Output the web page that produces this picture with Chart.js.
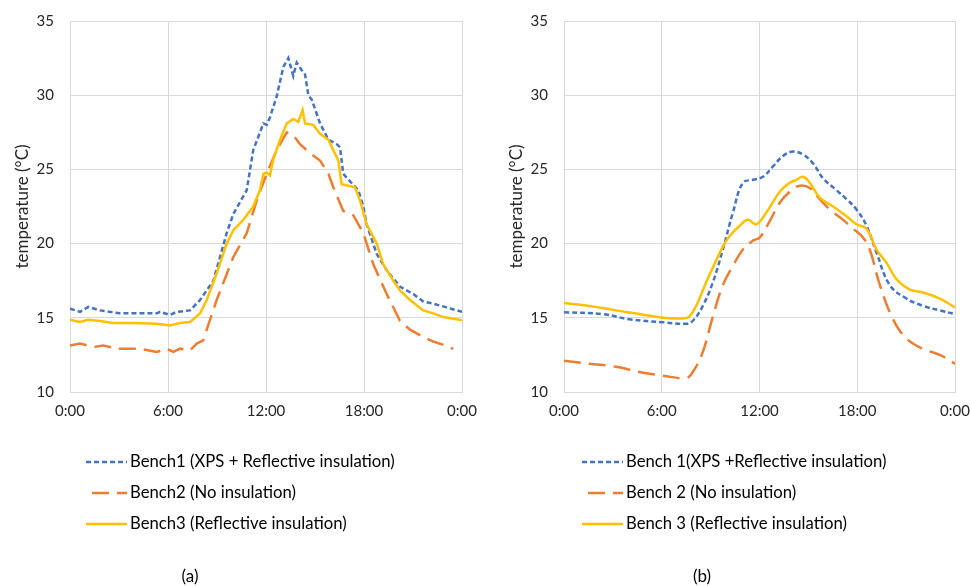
<!DOCTYPE html>
<html>
<head>
  <script src="https://cdn.jsdelivr.net/npm/chart.js"></script>
  <title>Bench temperatures</title>
  <style>
    body { margin: 0; background: #fff; }
    canvas { position: absolute; top: 0; }
  </style>
</head>
<body>
  <canvas id="chartA" width="480" height="586" style="left:0"></canvas>
  <canvas id="chartB" width="477" height="586" style="left:494px"></canvas>

  <script>
    // (a) readings: hour of day and temperature for each bench
    const aBench1Hours = [0,0.61,1.12,1.84,2.45,3.06,4.29,5.31,5.51,6.12,6.53,7.35,7.96,8.78,9.59,10.0,10.82,11.22,11.84,12.04,12.24,12.65,13.06,13.37,13.67,13.88,14.18,14.39,14.59,14.8,15.31,15.82,16.33,16.53,16.73,17.14,17.65,17.96,18.16,18.78,19.39,20.2,21.02,21.63,22.24,23.06,24];
    const aBench1Temp = [15.62,15.4,15.73,15.5,15.4,15.3,15.3,15.3,15.4,15.2,15.4,15.5,16.2,17.5,20.7,22.0,23.6,26.3,28.1,28.0,28.5,29.9,31.9,32.5,31.3,32.2,31.7,31.4,30.0,29.7,28.1,27.0,26.7,26.5,24.7,24.2,23.6,22.5,21.3,19.3,18.2,17.1,16.6,16.1,15.95,15.7,15.4];

    const aBench2Hours = [0,0.61,1.43,2.04,2.86,4.29,5.31,5.92,6.33,6.73,7.35,7.76,8.16,8.37,8.98,10.0,10.82,11.43,12.04,12.65,13.27,13.67,14.08,14.69,15.31,15.82,16.12,16.73,17.35,17.96,18.57,19.39,20.2,20.82,21.63,22.24,23.06,23.47];
    const aBench2Temp = [13.14,13.26,13.03,13.14,12.92,12.92,12.7,12.92,12.7,12.92,12.81,13.26,13.48,14.2,16.2,19.1,20.7,22.9,24.7,26.3,27.5,27.3,26.7,26.1,25.6,24.7,23.8,22.2,21.9,20.7,18.6,16.6,14.8,14.2,13.7,13.4,13.1,12.9];

    const aBench3Hours = [0,0.61,1.12,1.84,2.65,3.88,5.31,6.12,6.73,7.35,7.96,8.37,8.98,9.59,10.0,10.61,11.22,11.63,11.84,12.04,12.24,12.45,12.86,13.27,13.67,13.98,14.24,14.39,14.9,15.31,15.82,16.12,16.43,16.63,17.04,17.45,17.76,18.16,18.78,19.18,19.8,20.2,20.82,21.63,22.24,22.86,24];
    const aBench3Temp = [14.87,14.72,14.87,14.78,14.65,14.65,14.6,14.49,14.65,14.72,15.3,16.2,18.0,20.0,20.9,21.6,22.5,23.6,24.7,24.8,24.6,25.7,27.0,28.1,28.4,28.2,29.0,28.1,28.0,27.4,27.0,26.3,25.6,24.0,23.9,23.8,22.9,21.3,20.0,18.6,17.5,16.85,16.2,15.5,15.3,15.05,14.83];

    // (b) readings
    const bBench1Hours = [0,2.38,4.02,6.07,7.5,7.91,8.52,9.14,9.75,10.37,10.98,11.6,12.21,12.83,13.44,14.06,14.67,15.29,15.9,16.72,17.34,17.95,18.57,19.18,20.0,21.02,22.05,23.07,24];
    const bBench1Temp = [15.37,15.25,14.9,14.7,14.6,14.8,15.8,17.4,19.6,22.1,24.1,24.3,24.5,25.2,25.9,26.2,26.0,25.4,24.4,23.6,23.0,22.3,21.2,19.4,17.2,16.3,15.8,15.5,15.25];

    const bBench2Hours = [0,1.56,3.2,4.63,6.07,7.5,7.91,8.52,9.14,9.75,10.37,10.98,11.6,12.01,12.62,13.24,13.85,14.47,15.08,15.7,16.31,17.13,17.75,18.36,18.77,19.39,20.2,21.02,22.05,23.07,24];
    const bBench2Temp = [12.1,11.9,11.7,11.35,11.1,10.95,11.35,12.7,15.1,17.2,18.5,19.6,20.2,20.4,21.5,22.75,23.5,23.9,23.75,23.0,22.3,21.6,21.0,20.4,19.6,17.2,14.9,13.6,12.9,12.5,11.9];

    const bBench3Hours = [0,1.56,3.2,4.63,6.07,7.3,7.7,8.11,8.73,9.75,10.16,10.78,11.29,11.8,12.42,13.24,13.85,14.26,14.67,15.08,15.7,16.52,17.34,17.95,18.57,19.18,19.8,20.41,21.23,22.05,23.07,24];
    const bBench3Temp = [16.0,15.8,15.5,15.25,15.0,14.96,15.1,15.8,17.4,19.8,20.5,21.2,21.6,21.3,22.1,23.5,24.1,24.3,24.5,24.1,23.1,22.5,21.85,21.3,21.0,19.6,18.7,17.6,16.9,16.7,16.3,15.7];

    const legendLabelsA = ['Bench1 (XPS + Reflective insulation)', 'Bench2 (No insulation)', 'Bench3 (Reflective insulation)'];
    const legendLabelsB = ['Bench 1(XPS +Reflective insulation)', 'Bench 2 (No insulation)', 'Bench 3 (Reflective insulation)'];
    const yTicks = [10, 15, 20, 25, 30, 35];
    const xTickHours = [0, 6, 12, 18, 24];

    const FONT = 'Lato';
    const TEXT = '#262626';
    const GRID = '#d9d9d9';

    // line styles of the three benches
    const styles = [
      { color: '#4472C4', dash: [5, 3], order: 3 },
      { color: '#ED7D31', dash: [17, 8], order: 2 },
      { color: '#FFC000', dash: [], order: 1 }
    ];

    function pairs(hours, temps) {
      return hours.map((h, i) => ({ x: h, y: temps[i] }));
    }

    // legend + caption under each chart, drawn on the chart's own canvas
    const benchLegend = {
      id: 'benchLegend',
      afterDraw(chart, args, opts) {
        const ctx = chart.ctx;
        ctx.save();
        ctx.font = '16.7px ' + FONT;
        ctx.textBaseline = 'middle';
        ctx.fillStyle = '#000';
        opts.labels.forEach((text, i) => {
          const y = opts.y + i * opts.dy;
          const s = styles[i];
          ctx.strokeStyle = s.color;
          ctx.lineWidth = 2.5;
          ctx.setLineDash(s.dash);
          ctx.lineDashOffset = i === 1 ? -6 : 0;
          ctx.beginPath();
          ctx.moveTo(opts.x, y);
          ctx.lineTo(opts.x + 41, y);
          ctx.stroke();
          ctx.fillText(text, opts.x + 44, y);
        });
        ctx.setLineDash([]);
        ctx.font = '17px ' + FONT;
        ctx.textAlign = 'center';
        ctx.fillText(opts.caption, opts.captionX, 577);
        ctx.restore();
      }
    };

    function makeChart(id, series, labels, legendX, caption, captionX, padRight) {
      const datasets = series.map((d, i) => ({
        label: labels[i],
        data: pairs(d[0], d[1]),
        borderColor: styles[i].color,
        borderDash: styles[i].dash,
        borderWidth: 2.5,
        pointRadius: 0,
        fill: false,
        tension: id === 'chartB' ? 0.4 : 0,
        order: styles[i].order
      }));

      new Chart(document.getElementById(id), {
        type: 'line',
        data: { datasets: datasets },
        options: {
          responsive: false,
          animation: false,
          layout: { padding: { top: 21, right: padRight, bottom: 161, left: 0 } },
          plugins: {
            legend: { display: false },
            tooltip: { enabled: false },
            benchLegend: { labels: labels, x: legendX, y: 462, dy: 31, caption: caption, captionX: captionX }
          },
          scales: {
            x: {
              type: 'linear',
              min: 0,
              max: 24,
              afterBuildTicks: (scale) => { scale.ticks = xTickHours.map(v => ({ value: v })); },
              afterFit: (scale) => {
                scale.height = 33;
                scale.paddingLeft = 0;
                scale.paddingRight = 0;
              },
              ticks: {
                color: TEXT,
                font: { family: FONT, size: 15 },
                padding: 10,
                maxRotation: 0,
                callback: (v) => (v % 24) + ':00'
              },
              grid: { color: GRID, drawTicks: false },
              border: { color: GRID }
            },
            y: {
              min: 10,
              max: 35,
              afterBuildTicks: (scale) => { scale.ticks = yTicks.map(v => ({ value: v })); },
              afterFit: (scale) => {
                scale.width = 70;
                scale.paddingTop = 0;
                scale.paddingBottom = 0;
              },
              ticks: {
                color: TEXT,
                font: { family: FONT, size: 15 },
                padding: 16
              },
              grid: { color: GRID, drawTicks: false },
              border: { color: GRID },
              title: {
                display: true,
                text: 'temperature (°C)',
                color: TEXT,
                font: { family: FONT, size: 17 },
                padding: { top: 12, bottom: 0 }
              }
            }
          }
        },
        plugins: [benchLegend]
      });
    }

    makeChart('chartA',
      [[aBench1Hours, aBench1Temp], [aBench2Hours, aBench2Temp], [aBench3Hours, aBench3Temp]],
      legendLabelsA, 86, '(a)', 190, 18);

    makeChart('chartB',
      [[bBench1Hours, bBench1Temp], [bBench2Hours, bBench2Temp], [bBench3Hours, bBench3Temp]],
      legendLabelsB, 88, '(b)', 208, 16);
  </script>
</body>
</html>
